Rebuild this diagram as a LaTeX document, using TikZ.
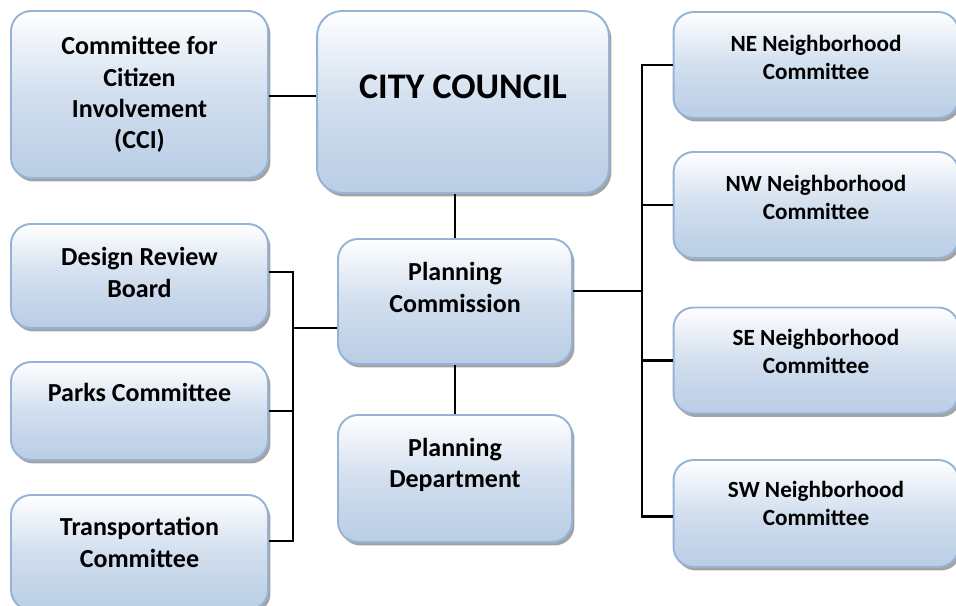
\documentclass[tikz,border=0pt]{standalone}
\usepackage{fontspec}
\setmainfont{Carlito}
\usepackage{xcolor}
\usepackage{tikz}
\usetikzlibrary{shadows, positioning}

\definecolor{boxedge}{HTML}{95B3D7}
\definecolor{boxfill}{HTML}{B9CDE5}

\begin{document}
\begin{tikzpicture}[
    x=0.02cm, y=0.02cm,
    box/.style={rectangle, rounded corners=0.4cm, draw=boxedge, line width=1.1pt,
        top color=white, bottom color=boxfill, middle color=boxfill!65,
        drop shadow={shadow xshift=0.05cm, shadow yshift=-0.07cm, fill=black!45, opacity=0.8},
        inner sep=0pt},
    txt/.style={inner sep=0pt, align=center, font=\fontsize{14.8}{17.9}\selectfont\bfseries},
    small/.style={txt, font=\fontsize{13.2}{15.9}\selectfont\bfseries},
    link/.style={line width=1.2pt, black}
    ]

    \useasboundingbox (0,0) rectangle (956,-605);

    % Top row
    \node (cci) [box, minimum width=5.14cm, minimum height=3.34cm] at (139.5,-94.5) {};
    \node (cc) [box, minimum width=5.84cm, minimum height=3.64cm, rounded corners=0.5cm] at (463,-102) {};

    % Neighborhood committees
    \node (ne) [box, minimum width=5.7cm, minimum height=2.12cm] at (816,-65) {};
    \node (nw) [box, minimum width=5.7cm, minimum height=2.12cm] at (816,-205) {};
    \node (se) [box, minimum width=5.7cm, minimum height=2.12cm] at (816,-360.5) {};
    \node (sw) [box, minimum width=5.7cm, minimum height=2.14cm] at (816,-513.5) {};

    % Left committees
    \node (drb) [box, minimum width=5.14cm, minimum height=2.08cm] at (139.5,-276) {};
    \node (parks) [box, minimum width=5.14cm, minimum height=1.96cm] at (139.5,-411) {};
    \node (trans) [box, minimum width=5.14cm, minimum height=2.3cm] at (139.5,-552.5) {};

    % Planning
    \node (pc) [box, minimum width=4.68cm, minimum height=2.5cm] at (455,-301.5) {};
    \node (pd) [box, minimum width=4.68cm, minimum height=2.54cm] at (455,-478.5) {};

    % Texts
    \node (cci-t) [txt, below=0.52cm of cci.north] {Committee for\\Citizen\\Involvement\\(CCI)};
    \node (cc-t) [txt, below=1.28cm of cc.north, font=\fontsize{20.5}{24}\selectfont\bfseries] {CITY COUNCIL};
    \node (ne-t) [small, below=0.47cm of ne.north] {NE Neighborhood\\Committee};
    \node (nw-t) [small, below=0.47cm of nw.north] {NW Neighborhood\\Committee};
    \node (se-t) [small, below=0.44cm of se.north] {SE Neighborhood\\Committee};
    \node (sw-t) [small, below=0.44cm of sw.north] {SW Neighborhood\\Committee};
    \node (drb-t) [txt, below=0.48cm of drb.north] {Design Review\\Board};
    \node (parks-t) [txt, below=0.44cm of parks.north] {Parks Committee};
    \node (trans-t) [txt, below=0.46cm of trans.north] {Transportation\\Committee};
    \node (pc-t) [txt, below=0.48cm of pc.north] {Planning\\Commission};
    \node (pd-t) [txt, below=0.47cm of pd.north] {Planning\\Department};

    % Bus points
    \coordinate (lbus) at (293,-328);
    \coordinate (rbus) at (642,-291);

    % Connectors
    \draw[link] ([yshift=-0.03cm]cci.east) -- ([yshift=-0.03cm]cci.east -| cc.west);
    \draw[link] (pc.north) -- (pc.north |- cc.south);
    \draw[link] (pc.south) -- (pd.north);
    \draw[link] (lbus) -- (lbus -| pc.west);
    \draw[link] ([yshift=0.08cm]drb.east) -| (lbus);
    \draw[link] (parks.east) -| (lbus);
    \draw[link] ([yshift=0.23cm]trans.east) -| (lbus);
    \draw[link] (rbus -| pc.east) -- (rbus);
    \draw[link] (ne.west) -| (rbus);
    \draw[link] (nw.west) -| (rbus);
    \draw[link] (se.west) -| (rbus);
    \draw[link] ([yshift=-0.06cm]sw.west) -| (rbus);
\end{tikzpicture}
\end{document}
